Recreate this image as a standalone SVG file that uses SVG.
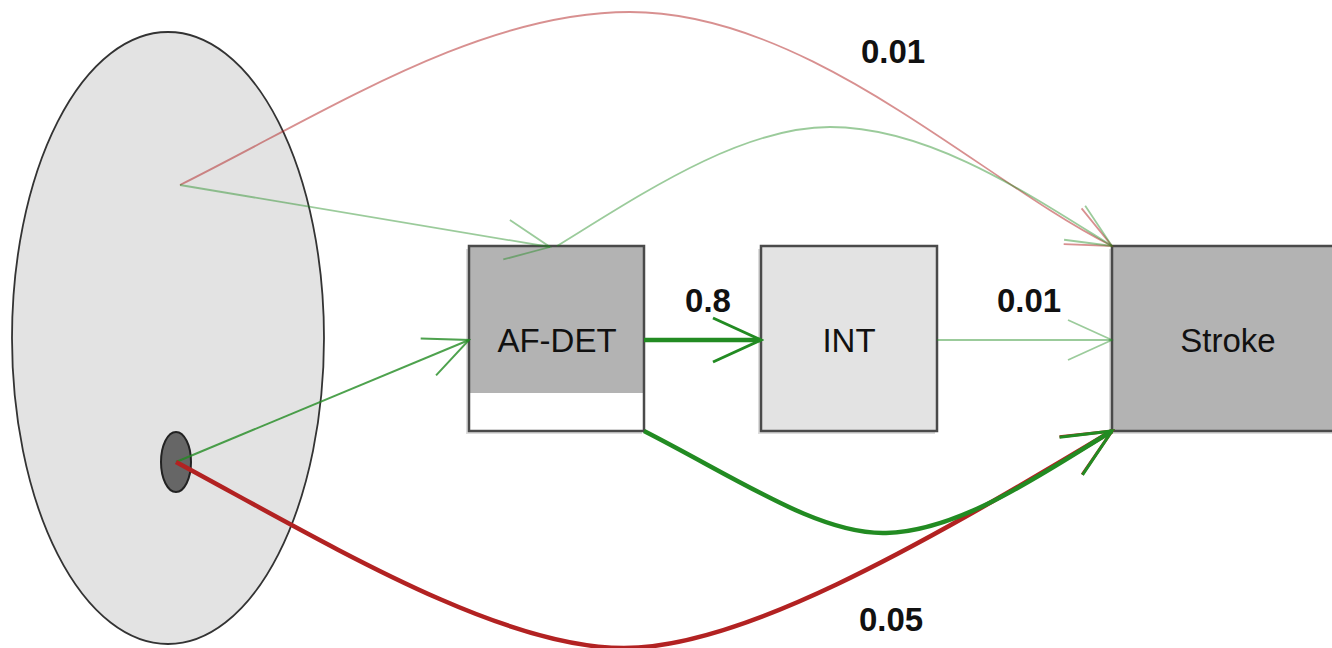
<svg xmlns="http://www.w3.org/2000/svg" width="1332" height="648" viewBox="0 0 1332 648">
<style>
.lbl{font-family:"Liberation Sans",Arial,sans-serif;font-size:33px;fill:#111;text-anchor:middle}
.elbl{font-family:"Liberation Sans",Arial,sans-serif;font-size:33px;font-weight:bold;fill:#111;text-anchor:middle}
.box{stroke:#4a4a4a;stroke-width:2.5}
.shadow{fill:#dcdcdc}
.edge{fill:none}
.lg{stroke:#228b22;stroke-opacity:0.45;stroke-width:1.8}
.mg{stroke:#228b22;stroke-opacity:0.8;stroke-width:2}
.lr{stroke:#b22222;stroke-opacity:0.5;stroke-width:1.8}
.tg{stroke:#228b22;stroke-width:4.5}
.tr{stroke:#b22222;stroke-width:4.5}
</style>
<defs>
<marker id="aLG" markerUnits="userSpaceOnUse" orient="auto" viewBox="-50 -25 52 50" refX="0" refY="0" markerWidth="52" markerHeight="50"><path d="M-44,-20 L0,0 L-44,20" fill="none" stroke="#228b22" stroke-opacity="0.45" stroke-width="1.8"/></marker>
<marker id="aMG" markerUnits="userSpaceOnUse" orient="auto" viewBox="-50 -25 52 50" refX="0" refY="0" markerWidth="52" markerHeight="50"><path d="M-44,-20 L0,0 L-44,20" fill="none" stroke="#228b22" stroke-opacity="0.8" stroke-width="2"/></marker>
<marker id="aLR" markerUnits="userSpaceOnUse" orient="auto" viewBox="-50 -25 52 50" refX="0" refY="0" markerWidth="52" markerHeight="50"><path d="M-44,-20 L0,0 L-44,20" fill="none" stroke="#b22222" stroke-opacity="0.5" stroke-width="1.8"/></marker>
<marker id="aTG" markerUnits="userSpaceOnUse" orient="auto" viewBox="-55 -28 58 56" refX="0" refY="0" markerWidth="58" markerHeight="56"><path d="M-48,-22 L0,0 L-48,22" fill="none" stroke="#228b22" stroke-width="3"/></marker>
<marker id="aTR" markerUnits="userSpaceOnUse" orient="auto" viewBox="-55 -28 58 56" refX="0" refY="0" markerWidth="58" markerHeight="56"><path d="M-48,-22 L0,0 L-48,22" fill="none" stroke="#b22222" stroke-width="3"/></marker>
</defs>
<rect width="1332" height="648" fill="#fff"/>

<g id="population">
<ellipse cx="168" cy="338" rx="156" ry="306" fill="#e3e3e3" stroke="#333" stroke-width="1.8"/>
</g>
<g id="af-patient">
<ellipse cx="176" cy="462" rx="15" ry="30" fill="#666" stroke="#222" stroke-width="2"/>
</g>

<g id="node-afdet">
<rect class="shadow" x="466" y="249" width="176" height="185"/>
<rect x="469" y="246" width="175" height="147" fill="#b3b3b3"/>
<rect x="469" y="393" width="175" height="38" fill="#fff"/>
<rect class="box" x="469" y="246" width="175" height="185" fill="none"/>
<text class="lbl" x="557" y="352">AF-DET</text>
</g>
<g id="node-int">
<rect class="shadow" x="758" y="249" width="177" height="185"/>
<rect class="box" x="761" y="246" width="176" height="185" fill="#e3e3e3"/>
<text class="lbl" x="849" y="352">INT</text>
</g>
<g id="node-stroke">
<rect class="shadow" x="1109" y="249" width="240" height="185"/>
<rect class="box" x="1112" y="246" width="240" height="185" fill="#b3b3b3"/>
<text class="lbl" x="1228" y="352">Stroke</text>
</g>

<g id="connectors">
<path class="edge lr" d="M180,185 C330,110 480,12 630,12 C810,12 980,180 1112,246" marker-end="url(#aLR)"/>
<path class="edge lg" d="M180,185 L550,247" marker-end="url(#aLG)"/>
<path class="edge lg" d="M557,246 C640,195 740,127 830,127 C930,127 1030,195 1112,246" marker-end="url(#aLG)"/>
<path class="edge mg" d="M176,462 L469,340" marker-end="url(#aMG)"/>
<path class="edge tg" d="M644,340 L761,340" marker-end="url(#aTG)"/>
<path class="edge lg" d="M937,340 L1112,340" marker-end="url(#aLG)"/>
<path class="edge tr" d="M176,462 C330,545 500,648 624,648 C740,648 912,551 1112,431" marker-end="url(#aTR)"/>
<path class="edge tg" d="M644,431 C740,480 820,535 886,533 C960,531 1040,475 1112,431" marker-end="url(#aTG)"/>
</g>

<g id="edge-labels">
<text class="elbl" x="893" y="63">0.01</text>
<text class="elbl" x="708" y="312">0.8</text>
<text class="elbl" x="1029" y="312">0.01</text>
<text class="elbl" x="891" y="631">0.05</text>
</g>
</svg>
